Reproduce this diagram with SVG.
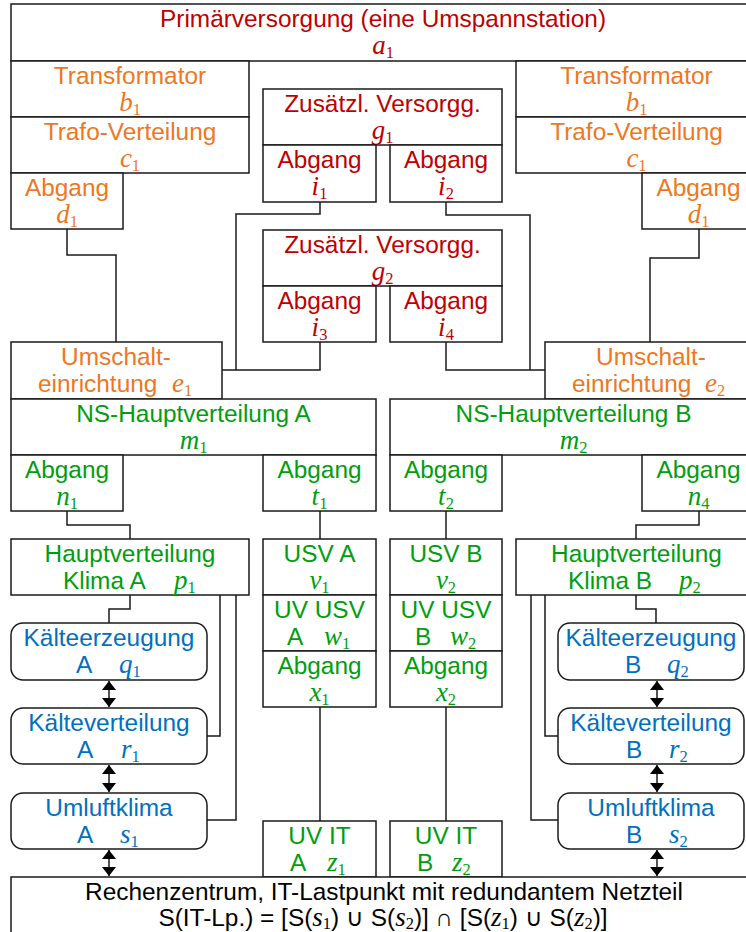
<svg xmlns="http://www.w3.org/2000/svg" width="746" height="932" viewBox="0 0 746 932">
<style>
.b{fill:#fff;stroke:#1a1a1a;stroke-width:1.5}
.c{fill:none;stroke:#1a1a1a;stroke-width:1.5}
.t{font-family:"Liberation Sans",Arial,sans-serif;font-size:24.4px}
.m{text-anchor:middle}
.v{font-family:"Liberation Serif","Times New Roman",serif;font-style:italic;font-size:27px}
.s{font-family:"Liberation Serif","Times New Roman",serif;font-style:normal;font-size:16.5px}
.red{fill:#C00000}.or{fill:#EE7722}.gr{fill:#009E0F}.bl{fill:#0070C0}.bk{fill:#000}
</style>
<defs>
<marker id="ah" markerUnits="userSpaceOnUse" markerWidth="14" markerHeight="14" refX="9" refY="7" orient="auto-start-reverse" viewBox="0 0 14 14">
<path d="M0,0 L9,7 L0,14 z" fill="#000"/>
</marker>
</defs>
<g id="connectors">
<path class="c" d="M67,229 V255 H116 V342"/>
<path class="c" d="M320,202 V214 H236 V370"/>
<path class="c" d="M222,370 H320 V342"/>
<path class="c" d="M446,202 V215 H530 V370"/>
<path class="c" d="M446,342 V370 H545"/>
<path class="c" d="M699,229 V258 H650 V342"/>
<path class="c" d="M67,511 V525 H130 V539"/>
<path class="c" d="M320,511 V539"/>
<path class="c" d="M446,511 V539"/>
<path class="c" d="M699,511 V525 H636 V539"/>
<path class="c" d="M130,595 V609 H109 V623"/>
<path class="c" d="M220,595 V736 H207"/>
<path class="c" d="M236,595 V820 H207"/>
<path class="c" d="M320,707 V821"/>
<path class="c" d="M446,707 V821"/>
<path class="c" d="M636,595 V609 H656 V623"/>
<path class="c" d="M545,595 V736 H558"/>
<path class="c" d="M531,595 V820 H558"/>
<path class="c" d="M109,681 V707" marker-start="url(#ah)" marker-end="url(#ah)"/>
<path class="c" d="M109,765 V792" marker-start="url(#ah)" marker-end="url(#ah)"/>
<path class="c" d="M109,850 V876" marker-start="url(#ah)" marker-end="url(#ah)"/>
<path class="c" d="M657,681 V707" marker-start="url(#ah)" marker-end="url(#ah)"/>
<path class="c" d="M657,765 V792" marker-start="url(#ah)" marker-end="url(#ah)"/>
<path class="c" d="M657,850 V876" marker-start="url(#ah)" marker-end="url(#ah)"/>
</g>
<g id="a1">
<rect class="b" x="11" y="4" width="760" height="57"/>
<text class="t m red" x="383" y="26.5">Primärversorgung (eine Umspannstation)</text>
<text class="v m red" x="383" y="54">a<tspan class="s" dy="4">1</tspan></text>
</g>
<g id="b1L">
<rect class="b" x="11" y="61" width="238" height="56"/>
<text class="t m or" x="130" y="83.5">Transformator</text>
<text class="v m or" x="130" y="111">b<tspan class="s" dy="4">1</tspan></text>
</g>
<g id="c1L">
<rect class="b" x="11" y="117" width="238" height="56"/>
<text class="t m or" x="130" y="139.5">Trafo-Verteilung</text>
<text class="v m or" x="130" y="167">c<tspan class="s" dy="4">1</tspan></text>
</g>
<g id="d1L">
<rect class="b" x="11" y="173" width="112" height="56"/>
<text class="t m or" x="67" y="195.5">Abgang</text>
<text class="v m or" x="67" y="223">d<tspan class="s" dy="4">1</tspan></text>
</g>
<g id="b1R">
<rect class="b" x="516" y="61" width="241" height="56"/>
<text class="t m or" x="636.5" y="83.5">Transformator</text>
<text class="v m or" x="636.5" y="111">b<tspan class="s" dy="4">1</tspan></text>
</g>
<g id="c1R">
<rect class="b" x="516" y="117" width="241" height="56"/>
<text class="t m or" x="636.5" y="139.5">Trafo-Verteilung</text>
<text class="v m or" x="636.5" y="167">c<tspan class="s" dy="4">1</tspan></text>
</g>
<g id="d1R">
<rect class="b" x="642" y="173" width="113" height="56"/>
<text class="t m or" x="698.5" y="195.5">Abgang</text>
<text class="v m or" x="698.5" y="223">d<tspan class="s" dy="4">1</tspan></text>
</g>
<g id="g1">
<rect class="b" x="263" y="89" width="239" height="56"/>
<text class="t m red" x="382.5" y="111.5">Zusätzl. Versorgg.</text>
<text class="v m red" x="382.5" y="139">g<tspan class="s" dy="4">1</tspan></text>
</g>
<g id="i1">
<rect class="b" x="263" y="145" width="113" height="57"/>
<text class="t m red" x="319.5" y="167.5">Abgang</text>
<text class="v m red" x="319.5" y="195">i<tspan class="s" dy="4">1</tspan></text>
</g>
<g id="i2">
<rect class="b" x="390" y="145" width="112" height="57"/>
<text class="t m red" x="446" y="167.5">Abgang</text>
<text class="v m red" x="446" y="195">i<tspan class="s" dy="4">2</tspan></text>
</g>
<g id="g2">
<rect class="b" x="263" y="230" width="239" height="56"/>
<text class="t m red" x="382.5" y="252.5">Zusätzl. Versorgg.</text>
<text class="v m red" x="382.5" y="280">g<tspan class="s" dy="4">2</tspan></text>
</g>
<g id="i3">
<rect class="b" x="263" y="286" width="113" height="56"/>
<text class="t m red" x="319.5" y="308.5">Abgang</text>
<text class="v m red" x="319.5" y="336">i<tspan class="s" dy="4">3</tspan></text>
</g>
<g id="i4">
<rect class="b" x="390" y="286" width="112" height="56"/>
<text class="t m red" x="446" y="308.5">Abgang</text>
<text class="v m red" x="446" y="336">i<tspan class="s" dy="4">4</tspan></text>
</g>
<g id="e1">
<rect class="b" x="11" y="342" width="211" height="57"/>
<text class="t m or" x="116" y="364.5">Umschalt-</text>
<text class="t or" y="392"><tspan x="38">einrichtung</tspan><tspan class="v" x="172">e</tspan><tspan class="s" dy="4">1</tspan></text>
</g>
<g id="e2">
<rect class="b" x="545" y="342" width="212" height="57"/>
<text class="t m or" x="651" y="364.5">Umschalt-</text>
<text class="t or" y="392"><tspan x="572">einrichtung</tspan><tspan class="v" x="705">e</tspan><tspan class="s" dy="4">2</tspan></text>
</g>
<g id="m1">
<rect class="b" x="11" y="399" width="365" height="56"/>
<text class="t m gr" x="193.5" y="421.5">NS-Hauptverteilung A</text>
<text class="v m gr" x="193.5" y="449">m<tspan class="s" dy="4">1</tspan></text>
</g>
<g id="m2">
<rect class="b" x="390" y="399" width="367" height="56"/>
<text class="t m gr" x="573.5" y="421.5">NS-Hauptverteilung B</text>
<text class="v m gr" x="573.5" y="449">m<tspan class="s" dy="4">2</tspan></text>
</g>
<g id="n1">
<rect class="b" x="11" y="455" width="112" height="56"/>
<text class="t m gr" x="67" y="477.5">Abgang</text>
<text class="v m gr" x="67" y="505">n<tspan class="s" dy="4">1</tspan></text>
</g>
<g id="t1">
<rect class="b" x="263" y="455" width="113" height="56"/>
<text class="t m gr" x="319.5" y="477.5">Abgang</text>
<text class="v m gr" x="319.5" y="505">t<tspan class="s" dy="4">1</tspan></text>
</g>
<g id="t2">
<rect class="b" x="390" y="455" width="112" height="56"/>
<text class="t m gr" x="446" y="477.5">Abgang</text>
<text class="v m gr" x="446" y="505">t<tspan class="s" dy="4">2</tspan></text>
</g>
<g id="n4">
<rect class="b" x="642" y="455" width="113" height="56"/>
<text class="t m gr" x="698.5" y="477.5">Abgang</text>
<text class="v m gr" x="698.5" y="505">n<tspan class="s" dy="4">4</tspan></text>
</g>
<g id="p1">
<rect class="b" x="11" y="539" width="238" height="56"/>
<text class="t m gr" x="130" y="561.5">Hauptverteilung</text>
<text class="t gr" y="589"><tspan x="63">Klima A</tspan><tspan class="v" x="174">p</tspan><tspan class="s" dy="4">1</tspan></text>
</g>
<g id="p2">
<rect class="b" x="516" y="539" width="241" height="56"/>
<text class="t m gr" x="636.5" y="561.5">Hauptverteilung</text>
<text class="t gr" y="589"><tspan x="568">Klima B</tspan><tspan class="v" x="679">p</tspan><tspan class="s" dy="4">2</tspan></text>
</g>
<g id="v1">
<rect class="b" x="263" y="539" width="113" height="56"/>
<text class="t m gr" x="319.5" y="561.5">USV A</text>
<text class="v m gr" x="319.5" y="589">v<tspan class="s" dy="4">1</tspan></text>
</g>
<g id="w1">
<rect class="b" x="263" y="595" width="113" height="56"/>
<text class="t m gr" x="319.5" y="617.5">UV USV</text>
<text class="t gr" y="645"><tspan x="287">A</tspan><tspan class="v" x="324">w</tspan><tspan class="s" dy="4">1</tspan></text>
</g>
<g id="x1">
<rect class="b" x="263" y="651" width="113" height="56"/>
<text class="t m gr" x="319.5" y="673.5">Abgang</text>
<text class="v m gr" x="319.5" y="701">x<tspan class="s" dy="4">1</tspan></text>
</g>
<g id="v2">
<rect class="b" x="390" y="539" width="112" height="56"/>
<text class="t m gr" x="446" y="561.5">USV B</text>
<text class="v m gr" x="446" y="589">v<tspan class="s" dy="4">2</tspan></text>
</g>
<g id="w2">
<rect class="b" x="390" y="595" width="112" height="56"/>
<text class="t m gr" x="446" y="617.5">UV USV</text>
<text class="t gr" y="645"><tspan x="415">B</tspan><tspan class="v" x="450">w</tspan><tspan class="s" dy="4">2</tspan></text>
</g>
<g id="x2">
<rect class="b" x="390" y="651" width="112" height="56"/>
<text class="t m gr" x="446" y="673.5">Abgang</text>
<text class="v m gr" x="446" y="701">x<tspan class="s" dy="4">2</tspan></text>
</g>
<g id="q1">
<rect class="b" x="11" y="623" width="196" height="57" rx="12"/>
<text class="t m bl" x="109" y="645.5">Kälteerzeugung</text>
<text class="t bl" y="673"><tspan x="76">A</tspan><tspan class="v" x="119">q</tspan><tspan class="s" dy="4">1</tspan></text>
</g>
<g id="r1">
<rect class="b" x="11" y="708" width="196" height="56" rx="12"/>
<text class="t m bl" x="109" y="730.5">Kälteverteilung</text>
<text class="t bl" y="758"><tspan x="77">A</tspan><tspan class="v" x="121">r</tspan><tspan class="s" dy="4">1</tspan></text>
</g>
<g id="s1">
<rect class="b" x="11" y="793" width="196" height="56" rx="12"/>
<text class="t m bl" x="109" y="815.5">Umluftklima</text>
<text class="t bl" y="843"><tspan x="77">A</tspan><tspan class="v" x="120">s</tspan><tspan class="s" dy="4">1</tspan></text>
</g>
<g id="q2">
<rect class="b" x="558" y="623" width="186" height="57" rx="12"/>
<text class="t m bl" x="651" y="645.5">Kälteerzeugung</text>
<text class="t bl" y="673"><tspan x="625">B</tspan><tspan class="v" x="667">q</tspan><tspan class="s" dy="4">2</tspan></text>
</g>
<g id="r2">
<rect class="b" x="558" y="708" width="186" height="56" rx="12"/>
<text class="t m bl" x="651" y="730.5">Kälteverteilung</text>
<text class="t bl" y="758"><tspan x="626">B</tspan><tspan class="v" x="669">r</tspan><tspan class="s" dy="4">2</tspan></text>
</g>
<g id="s2">
<rect class="b" x="558" y="793" width="186" height="56" rx="12"/>
<text class="t m bl" x="651" y="815.5">Umluftklima</text>
<text class="t bl" y="843"><tspan x="626">B</tspan><tspan class="v" x="669">s</tspan><tspan class="s" dy="4">2</tspan></text>
</g>
<g id="z1">
<rect class="b" x="263" y="821" width="113" height="56"/>
<text class="t m gr" x="319.5" y="843.5">UV IT</text>
<text class="t gr" y="871"><tspan x="290">A</tspan><tspan class="v" x="327">z</tspan><tspan class="s" dy="4">1</tspan></text>
</g>
<g id="z2">
<rect class="b" x="390" y="821" width="112" height="56"/>
<text class="t m gr" x="446" y="843.5">UV IT</text>
<text class="t gr" y="871"><tspan x="417">B</tspan><tspan class="v" x="452">z</tspan><tspan class="s" dy="4">2</tspan></text>
</g>
<g id="itlp">
<rect class="b" x="11" y="877" width="760" height="70"/>
<text class="t m bk" x="384" y="899.5">Rechenzentrum, IT-Lastpunkt mit redundantem Netzteil</text>
<text class="t m bk" x="383" y="926">S(IT-Lp.) = [S(<tspan class="v">s</tspan><tspan class="s" dy="3">1</tspan><tspan dy="-3">) ∪ S(</tspan><tspan class="v">s</tspan><tspan class="s" dy="3">2</tspan><tspan dy="-3">)] ∩ [S(</tspan><tspan class="v">z</tspan><tspan class="s" dy="3">1</tspan><tspan dy="-3">) ∪ S(</tspan><tspan class="v">z</tspan><tspan class="s" dy="3">2</tspan><tspan dy="-3">)]</tspan></text>
</g>
</svg>
